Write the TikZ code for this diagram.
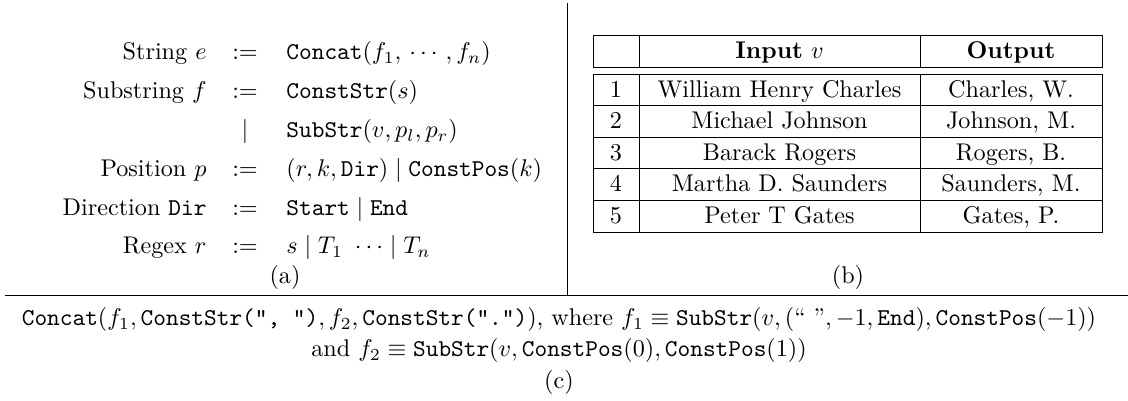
\documentclass[tikz,border=0pt]{standalone}
\usepackage{amsmath,amssymb}
\begin{document}
\begin{tikzpicture}[x=0.414pt,y=-0.414pt,
  lbl/.style={anchor=base east, inner sep=0pt},
  eqs/.style={anchor=base, inner sep=0pt},
  rhs/.style={anchor=base west, inner sep=0pt},
  cell/.style={anchor=base, inner sep=0pt},
  txt/.style={anchor=base, inner sep=0pt},
  rulel/.style={line width=0.4pt}]
\useasboundingbox (0,0) rectangle (1128,401);
% ---------- panel (a)
\node[lbl] (l1) at (207,60) {String $e$};
\node[eqs] (e1) at (245,60) {$:=$};
\node[rhs] (r1) at (286,60) {$\mathtt{Concat}(f_1,\,\cdots,f_n)$};
\node[lbl] (l2) at (207,98.8) {Substring $f$};
\node[eqs] (e2) at (245,98.8) {$:=$};
\node[rhs] (r2) at (286,98.8) {$\mathtt{ConstStr}(s)$};
\node[eqs] (e3) at (245,137.6) {$\mid$};
\node[rhs] (r3) at (286,137.6) {$\mathtt{SubStr}(v,p_l,p_r)$};
\node[lbl] (l4) at (207,176.4) {Position $p$};
\node[eqs] (e4) at (245,176.4) {$:=$};
\node[rhs] (r4) at (286,176.4) {$(r,k,\mathtt{Dir})\mid\mathtt{ConstPos}(k)$};
\node[lbl] (l5) at (207,215.2) {Direction \texttt{Dir}};
\node[eqs] (e5) at (245,215.2) {$:=$};
\node[rhs] (r5) at (286,215.2) {$\mathtt{Start}\mid\mathtt{End}$};
\node[lbl] (l6) at (207,254) {Regex $r$};
\node[eqs] (e6) at (245,254) {$:=$};
\node[rhs] (r6) at (286,254) {$s\mid T_1\ \cdots\mid T_n$};
\node[txt] (capa) at (285,284) {(a)};
% ---------- panel (b)
\draw[rulel] (593,35) rectangle (1102,67);
\draw[rulel] (639,35) -- (639,67) (920,35) -- (920,67);
\draw[rulel] (593,74) rectangle (1102,232);
\draw[rulel] (639,74) -- (639,232) (920,74) -- (920,232);
\draw[rulel] (593,105.6) -- (1102,105.6) (593,137.2) -- (1102,137.2)
  (593,168.8) -- (1102,168.8) (593,200.4) -- (1102,200.4);
\node[cell] (h2) at (779.5,58.5) {\textbf{Input} $v$};
\node[cell] (h3) at (1011,58.5) {\textbf{Output}};
\node[cell] (n1) at (616,97.1) {1};
\node[cell] (i1) at (779.5,97.1) {William Henry Charles};
\node[cell] (o1) at (1011,97.1) {Charles, W.};
\node[cell] (n2) at (616,128.7) {2};
\node[cell] (i2) at (779.5,128.7) {Michael Johnson};
\node[cell] (o2) at (1011,128.7) {Johnson, M.};
\node[cell] (n3) at (616,160.3) {3};
\node[cell] (i3) at (779.5,160.3) {Barack Rogers};
\node[cell] (o3) at (1011,160.3) {Rogers, B.};
\node[cell] (n4) at (616,191.9) {4};
\node[cell] (i4) at (779.5,191.9) {Martha D. Saunders};
\node[cell] (o4) at (1011,191.9) {Saunders, M.};
\node[cell] (n5) at (616,223.5) {5};
\node[cell] (i5) at (779.5,223.5) {Peter T Gates};
\node[cell] (o5) at (1011,223.5) {Gates, P.};
\node[txt] (capb) at (848,284) {(b)};
% ---------- dividers
\draw[rulel] (567,3) -- (567,295);
\draw[rulel] (5,295) -- (1128,295);
% ---------- panel (c)
\node[txt] (c1) at (559,326) {$\mathtt{Concat}(f_1,\texttt{ConstStr(", ")},f_2,\texttt{ConstStr(".")})$, where $f_1\equiv\mathtt{SubStr}(v,(\text{`` ''},-1,\mathtt{End}),\mathtt{ConstPos}(-1))$};
\node[txt] (c2) at (559,357) {and $f_2\equiv\mathtt{SubStr}(v,\mathtt{ConstPos}(0),\mathtt{ConstPos}(1))$};
\node[txt] (capc) at (559,389) {(c)};
\end{tikzpicture}
\end{document}
